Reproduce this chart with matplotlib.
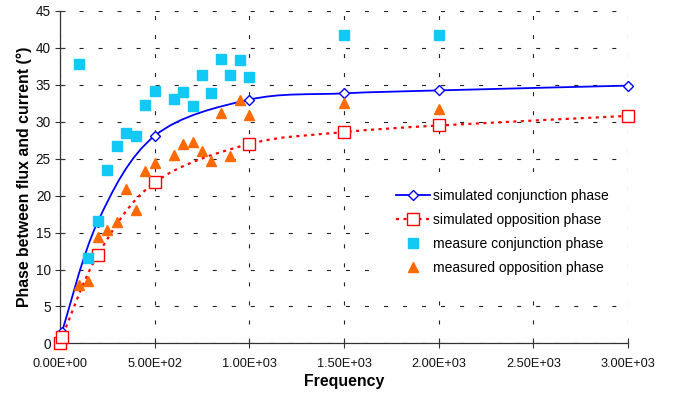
import matplotlib
matplotlib.use("Agg")
import matplotlib.pyplot as plt
from matplotlib.path import Path
from matplotlib.patches import PathPatch
from matplotlib.lines import Line2D
import numpy as np

plt.rcParams['font.family'] = ['Liberation Sans', 'DejaVu Sans']
plt.rcParams['lines.scale_dashes'] = False

# simulated curves
sim_freq = [10, 200, 500, 1000, 1500, 2000, 3000]
sim_conj = [1.5, 16.5, 28.1, 33.0, 33.85, 34.25, 34.9]
sim_opp_freq = [0, 10, 200, 500, 1000, 1500, 2000, 3000]
sim_opp = [0.1, 0.8, 12.0, 21.8, 27.0, 28.6, 29.5, 30.8]

# measurements
meas_freq = [100, 150, 200, 250, 300, 350, 400, 450, 500, 600, 650, 700,
             750, 800, 850, 900, 950, 1000, 1500, 2000]
meas_conj = [37.8, 11.6, 16.6, 23.5, 26.7, 28.5, 28.1, 32.3, 34.2, 33.1, 34.0, 32.2,
             36.4, 33.9, 38.5, 36.4, 38.3, 36.0, 41.8, 41.8]
meas_opp = [7.9, 8.4, 14.4, 15.4, 16.5, 20.9, 18.1, 23.4, 24.4, 25.5, 27.0, 27.2,
            26.1, 24.7, 31.2, 25.4, 33.0, 30.9, 32.6, 31.7]

xticks = [0, 500, 1000, 1500, 2000, 2500, 3000]
xticklabels = ["0.00E+00", "5.00E+02", "1.00E+03", "1.50E+03", "2.00E+03", "2.50E+03", "3.00E+03"]


def smooth_path(x, y):
    # excel-like smoothed line: cubic bezier, control points from neighbours
    p = np.column_stack([x, y]).astype(float)
    n = len(p)
    verts = [p[0]]
    codes = [Path.MOVETO]
    for i in range(n - 1):
        prev = p[i - 1] if i > 0 else p[i]
        nxt = p[i + 2] if i + 2 < n else p[i + 1]
        c1 = p[i] + (p[i + 1] - prev) / 6.0
        c2 = p[i + 1] - (nxt - p[i]) / 6.0
        verts += [c1, c2, p[i + 1]]
        codes += [Path.CURVE4] * 3
    return Path(verts, codes)


fig = plt.figure(figsize=(6.79, 3.94), dpi=100)
ax = fig.add_axes([60 / 679, 50.6 / 394, 568 / 679, 332.4 / 394])

blue = "#0000ff"
red = "#ff0000"
cyan = "#12c8f5"
orange = "#ff6a00"

ax.add_patch(PathPatch(smooth_path(sim_freq, sim_conj), facecolor="none",
                       edgecolor=blue, lw=1.3, zorder=3))
ax.add_patch(PathPatch(smooth_path(sim_opp_freq, sim_opp), facecolor="none",
                       edgecolor=red, lw=1.6, linestyle=(0, (2.2, 3.2)), zorder=3))
ax.plot(sim_freq, sim_conj, ls="none", marker="D", ms=5.5, mfc="white", mec=blue,
        mew=1.0, zorder=4, clip_on=False)
ax.plot(sim_opp_freq, sim_opp, ls="none", marker="s", ms=8, mfc="white", mec=red,
        mew=1.0, zorder=4, clip_on=False)
ax.plot(meas_freq, meas_conj, ls="none", marker="s", ms=7, color=cyan, mec=cyan,
        zorder=5, clip_on=False)
ax.plot(meas_freq, meas_opp, ls="none", marker="^", ms=6.5, color=orange, mec=orange,
        zorder=5, clip_on=False)

ax.set_xlim(0, 3000)
ax.set_ylim(0, 45)
ax.set_xticks(xticks)
ax.set_xticklabels(xticklabels)
ax.set_yticks(range(0, 46, 5))
ax.tick_params(direction="inout", length=7, width=0.8, color="#333333",
               labelcolor="#111111")
ax.tick_params(axis="x", pad=7, labelsize=9.2)
ax.tick_params(axis="y", pad=3, labelsize=9.8)

ax.grid(True, color="#222222", lw=0.8, linestyle=(0, (2.9, 10.8)))
ax.set_axisbelow(True)
for s in ["top", "right"]:
    ax.spines[s].set_visible(False)
for s in ["left", "bottom"]:
    ax.spines[s].set_color("#333333")
    ax.spines[s].set_linewidth(0.9)

ax.set_xlabel("Frequency", fontsize=11.4, fontweight="bold", labelpad=3)
ax.set_ylabel("Phase between flux and current (°)", fontsize=11.4, fontweight="bold",
              labelpad=3)

handles = [
    Line2D([], [], color=blue, lw=1.3, marker="D", ms=5.5, mfc="white", mec=blue),
    Line2D([], [], color=red, lw=1.6, ls=(0, (2.2, 3.2)), marker="s", ms=8,
           mfc="white", mec=red),
    Line2D([], [], ls="none", marker="s", ms=7, color=cyan),
    Line2D([], [], ls="none", marker="^", ms=6.5, color=orange),
]
labels = ["simulated conjunction phase", "simulated opposition phase",
          "measure conjunction phase", "measured opposition phase"]
leg = ax.legend(handles, labels, loc="upper left", bbox_to_anchor=(0.563, 0.515),
                frameon=True, facecolor="white", edgecolor="none", framealpha=1,
                fancybox=False, fontsize=10, handlelength=2.4, handletextpad=0.25,
                labelspacing=0.72, borderpad=1.2, borderaxespad=0)
leg.set_zorder(6)

fig.savefig("out.png", dpi=100)
